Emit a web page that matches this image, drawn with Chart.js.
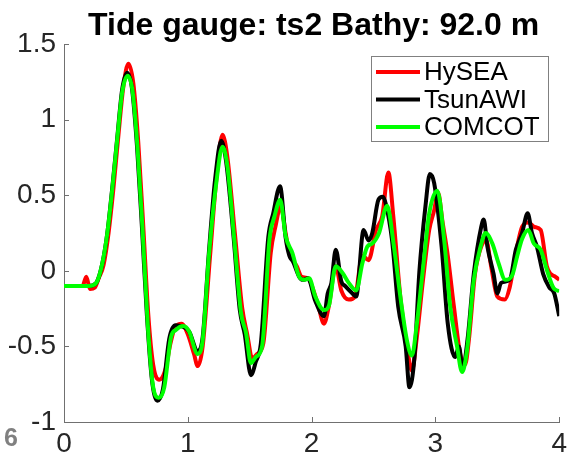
<!DOCTYPE html>
<html>
<head>
<meta charset="utf-8">
<script src="https://cdn.jsdelivr.net/npm/chart.js@4.4.0/dist/chart.umd.min.js"></script>
<style>
  html, body { margin: 0; padding: 0; background: #fff; }
  #wrap { width: 572px; height: 459px; }
</style>
</head>
<body>
<div id="wrap"><canvas id="gauge" width="572" height="459"></canvas></div>
<script>
// time (hours) and sea level (m)
const hyseaT = [0, 0.15, 0.18, 0.21, 0.25, 0.28, 0.32, 0.36, 0.40, 0.44, 0.48, 0.52, 0.56, 0.60, 0.64, 0.68, 0.72, 0.77, 0.82, 0.86, 0.90, 0.95, 1.0, 1.05, 1.08, 1.12, 1.18, 1.23, 1.28, 1.32, 1.38, 1.44, 1.48, 1.52, 1.56, 1.61, 1.67, 1.71, 1.75, 1.79, 1.82, 1.88, 1.92, 1.97, 2.05, 2.1, 2.14, 2.195, 2.24, 2.3, 2.35, 2.41, 2.46, 2.52, 2.57, 2.62, 2.66, 2.72, 2.77, 2.81, 2.85, 2.9, 2.95, 2.99, 3.02, 3.06, 3.1, 3.15, 3.2, 3.24, 3.27, 3.32, 3.37, 3.41, 3.45, 3.5, 3.56, 3.6, 3.66, 3.7, 3.75, 3.8, 3.85, 3.9, 3.93, 3.97, 4.0];
const hyseaV = [-0.1, -0.1, -0.04, -0.12, -0.11, -0.05, 0.04, 0.25, 0.55, 0.9, 1.22, 1.37, 1.24, 0.85, 0.3, -0.28, -0.62, -0.72, -0.65, -0.48, -0.37, -0.35, -0.42, -0.55, -0.63, -0.5, 0.1, 0.6, 0.9, 0.75, 0.25, -0.25, -0.42, -0.58, -0.55, -0.48, 0.12, 0.3, 0.43, 0.25, 0.12, 0.03, -0.04, -0.05, -0.22, -0.35, -0.23, 0.03, -0.13, -0.19, -0.17, 0.1, 0.07, 0.27, 0.36, 0.65, 0.36, -0.2, -0.5, -0.66, -0.44, -0.06, 0.27, 0.4, 0.52, 0.31, 0.1, -0.24, -0.55, -0.62, -0.46, -0.02, 0.16, 0.2, 0.03, -0.17, -0.19, -0.11, 0.16, 0.29, 0.32, 0.29, 0.27, 0.03, -0.02, -0.04, -0.06];

const tsunawiT = [0, 0.2, 0.26, 0.31, 0.35, 0.39, 0.43, 0.47, 0.51, 0.55, 0.59, 0.63, 0.67, 0.71, 0.755, 0.80, 0.85, 0.90, 0.96, 1.01, 1.08, 1.12, 1.17, 1.22, 1.27, 1.31, 1.37, 1.42, 1.46, 1.51, 1.55, 1.59, 1.65, 1.69, 1.745, 1.79, 1.82, 1.85, 1.9, 1.93, 1.97, 2.03, 2.1, 2.13, 2.16, 2.195, 2.24, 2.27, 2.33, 2.36, 2.42, 2.46, 2.49, 2.54, 2.575, 2.6, 2.65, 2.7, 2.76, 2.79, 2.83, 2.87, 2.92, 2.955, 2.99, 3.05, 3.1, 3.16, 3.19, 3.22, 3.26, 3.31, 3.37, 3.39, 3.42, 3.47, 3.5, 3.53, 3.6, 3.65, 3.7, 3.745, 3.78, 3.82, 3.87, 3.92, 3.96, 4.0];
const tsunawiV = [-0.1, -0.1, -0.08, 0.05, 0.25, 0.55, 0.88, 1.2, 1.31, 1.2, 0.82, 0.28, -0.3, -0.72, -0.86, -0.78, -0.45, -0.36, -0.37, -0.4, -0.53, -0.44, 0.12, 0.6, 0.86, 0.72, 0.22, -0.26, -0.42, -0.69, -0.6, -0.48, 0.22, 0.38, 0.56, 0.22, 0.1, 0.06, -0.04, -0.06, -0.05, -0.2, -0.3, -0.15, -0.08, 0.14, -0.07, -0.1, -0.15, -0.17, 0.27, 0.2, 0.25, 0.47, 0.49, 0.44, 0.2, -0.24, -0.5, -0.77, -0.58, -0.01, 0.43, 0.64, 0.58, 0.16, -0.35, -0.57, -0.5, -0.65, -0.45, -0.02, 0.29, 0.34, 0.16, -0.02, -0.15, -0.08, -0.06, 0.14, 0.25, 0.38, 0.25, 0.16, -0.02, -0.11, -0.15, -0.3];

const comcotT = [0, 0.2, 0.26, 0.31, 0.35, 0.39, 0.43, 0.47, 0.515, 0.555, 0.595, 0.636, 0.676, 0.716, 0.765, 0.81, 0.864, 0.905, 0.964, 1.01, 1.08, 1.12, 1.17, 1.23, 1.28, 1.32, 1.375, 1.43, 1.47, 1.51, 1.55, 1.60, 1.66, 1.70, 1.746, 1.79, 1.845, 1.90, 1.94, 1.98, 2.03, 2.10, 2.14, 2.195, 2.25, 2.30, 2.36, 2.41, 2.45, 2.49, 2.545, 2.61, 2.665, 2.72, 2.77, 2.81, 2.85, 2.91, 2.95, 3.015, 3.07, 3.12, 3.175, 3.215, 3.256, 3.31, 3.365, 3.405, 3.46, 3.51, 3.565, 3.62, 3.66, 3.70, 3.75, 3.795, 3.85, 3.90, 3.955, 4.0];
const comcotV = [-0.1, -0.1, -0.08, 0.05, 0.25, 0.54, 0.87, 1.18, 1.29, 1.18, 0.8, 0.25, -0.35, -0.745, -0.84, -0.77, -0.44, -0.39, -0.365, -0.4, -0.55, -0.46, 0.095, 0.58, 0.82, 0.69, 0.21, -0.28, -0.41, -0.61, -0.57, -0.5, 0.21, 0.36, 0.47, 0.23, 0.117, -0.04, -0.06, -0.05, -0.17, -0.26, -0.23, 0.03, -0.015, -0.08, -0.13, 0.05, 0.16, 0.18, 0.25, 0.43, 0.16, -0.19, -0.46, -0.56, -0.35, 0.095, 0.38, 0.53, 0.21, -0.24, -0.5, -0.67, -0.52, -0.06, 0.16, 0.25, 0.18, 0.05, -0.06, -0.03, 0.095, 0.21, 0.27, 0.18, 0.14, 0.007, -0.115, -0.135];

const xTicks = [0, 1, 2, 3, 4];
const yTicks = [-1, -0.5, 0, 0.5, 1, 1.5];

const titleText = 'Tide gauge: ts2 Bathy: 92.0 m';
const seriesNames = ['HySEA', 'TsunAWI', 'COMCOT'];
const seriesColors = ['#ff0000', '#000000', '#00ff00'];

const FONT = '"Liberation Sans", Arial, Helvetica, sans-serif';
const AXIS = '#262626';

function pts(ts, vs) {
  return ts.map((t, i) => ({x: t, y: vs[i]}));
}

// title, legend, inward ticks and the stray panel label
const decor = {
  id: 'decor',
  afterDraw(chart) {
    const ctx = chart.ctx;
    const a = chart.chartArea;
    const xs = chart.scales.x, ys = chart.scales.y;
    ctx.save();
    ctx.strokeStyle = '#707070';
    ctx.lineWidth = 1;
    ctx.beginPath();
    yTicks.forEach(v => {
      const y = Math.round(ys.getPixelForValue(v)) + 0.5;
      ctx.moveTo(a.left, y); ctx.lineTo(a.left + 5, y);
    });
    xTicks.forEach(v => {
      const x = Math.round(xs.getPixelForValue(v)) + 0.5;
      ctx.moveTo(x, a.bottom); ctx.lineTo(x, a.bottom - 5);
    });
    ctx.stroke();

    ctx.fillStyle = '#000';
    ctx.font = 'bold 32px ' + FONT;
    ctx.textAlign = 'center';
    ctx.textBaseline = 'alphabetic';
    ctx.fillText(titleText, (a.left + a.right) / 2 + 2, 35);

    // legend box
    const bx = 371.5, by = 56.5, bw = 177, bh = 85;
    ctx.fillStyle = '#fff';
    ctx.fillRect(bx, by, bw, bh);
    ctx.strokeStyle = '#808080';
    ctx.lineWidth = 1;
    ctx.strokeRect(bx, by, bw, bh);
    ctx.font = '26px ' + FONT;
    ctx.textAlign = 'left';
    ctx.textBaseline = 'middle';
    seriesNames.forEach((name, i) => {
      const y = 72 + i * 27.5;
      ctx.strokeStyle = seriesColors[i];
      ctx.lineWidth = 4;
      ctx.beginPath();
      ctx.moveTo(376, y); ctx.lineTo(420, y);
      ctx.stroke();
      ctx.fillStyle = '#000';
      ctx.fillText(name, 424, y + 1);
    });

    ctx.fillStyle = '#808080';
    ctx.font = 'bold 25px ' + FONT;
    ctx.textAlign = 'left';
    ctx.textBaseline = 'alphabetic';
    ctx.fillText('6', 4, 446);
    ctx.restore();
  }
};

const lineStyle = {
  borderWidth: 4,
  pointRadius: 0,
  fill: false,
  cubicInterpolationMode: 'monotone'
};

new Chart(document.getElementById('gauge').getContext('2d'), {
  type: 'line',
  data: {
    datasets: [
      Object.assign({label: seriesNames[0], data: pts(hyseaT, hyseaV), borderColor: seriesColors[0], order: 2}, lineStyle),
      Object.assign({label: seriesNames[1], data: pts(tsunawiT, tsunawiV), borderColor: seriesColors[1], order: 1}, lineStyle),
      Object.assign({label: seriesNames[2], data: pts(comcotT, comcotV), borderColor: seriesColors[2], order: 0}, lineStyle)
    ]
  },
  options: {
    responsive: false,
    animation: false,
    layout: {padding: {top: 44, right: 11, bottom: 0, left: 0}},
    plugins: {legend: {display: false}, title: {display: false}, tooltip: {enabled: false}},
    scales: {
      x: {
        type: 'linear',
        min: 0, max: 4,
        afterBuildTicks: s => { s.ticks = xTicks.map(v => ({value: v})); },
        afterFit: s => { s.height = 37; },
        grid: {display: false, drawTicks: false},
        border: {display: true, color: '#707070', width: 1},
        ticks: {color: AXIS, font: {family: FONT, size: 28}, padding: 5, maxRotation: 0,
          callback: v => String(v)}
      },
      y: {
        type: 'linear',
        min: -1, max: 1.5,
        afterBuildTicks: s => { s.ticks = yTicks.map(v => ({value: v})); },
        afterFit: s => { s.width = 64; },
        grid: {display: false, drawTicks: false},
        border: {display: true, color: '#707070', width: 1},
        ticks: {color: AXIS, font: {family: FONT, size: 28}, padding: 8,
          callback: v => String(v)}
      }
    }
  },
  plugins: [decor]
});
</script>
</body>
</html>
